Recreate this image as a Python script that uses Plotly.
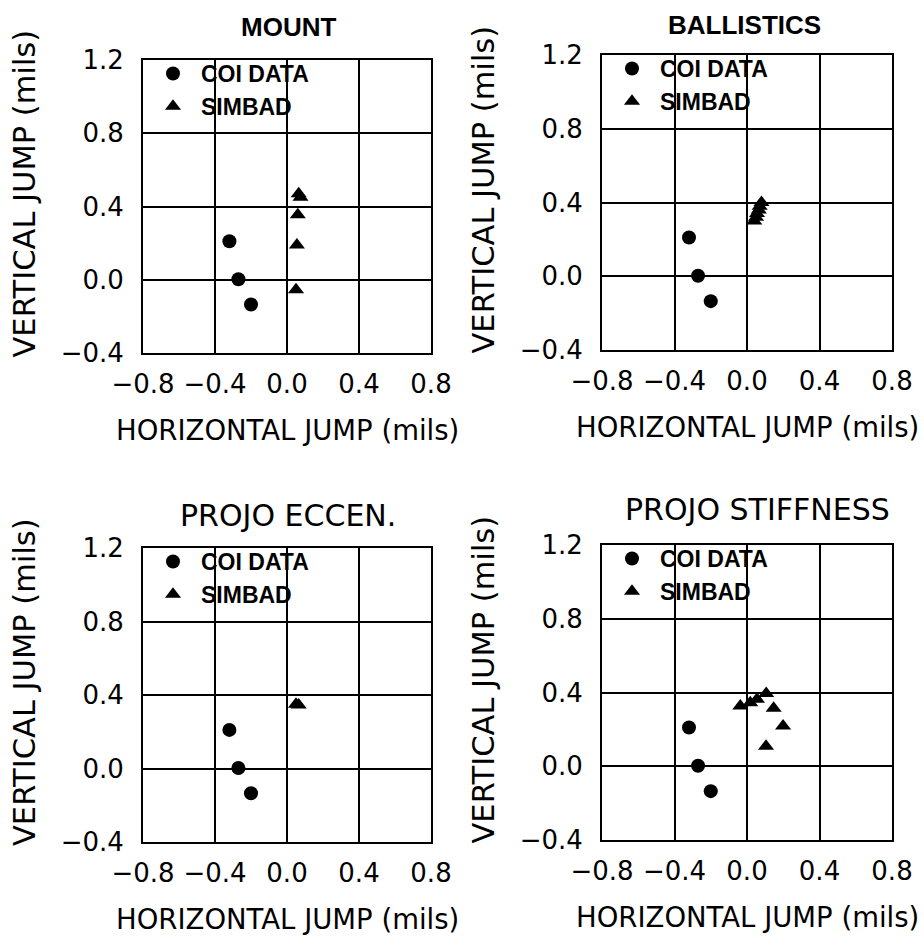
import plotly.graph_objects as go

# ---------------- data ----------------
panel_titles = ["MOUNT", "BALLISTICS", "PROJO ECCEN.", "PROJO STIFFNESS"]
series_names = ["COI DATA", "SIMBAD"]
x_ticks = [-0.8, -0.4, 0.0, 0.4, 0.8]
y_ticks = [-0.4, 0.0, 0.4, 0.8, 1.2]

coi_x = [-0.32, -0.27, -0.20]
coi_y = [0.21, 0.003, -0.135]

mount_x = [0.065, 0.075, 0.06, 0.055, 0.05]
mount_y = [0.47, 0.45, 0.355, 0.19, -0.055]

ballistics_x = [0.04, 0.05, 0.055, 0.065, 0.07, 0.08]
ballistics_y = [0.30, 0.32, 0.34, 0.36, 0.38, 0.40]

eccen_x = [0.05, 0.065]
eccen_y = [0.35, 0.345]

stiff_x = [-0.037, 0.018, 0.055, 0.106, 0.147, 0.199, 0.105]
stiff_y = [0.327, 0.345, 0.364, 0.395, 0.315, 0.218, 0.109]

simbad_sets = [(mount_x, mount_y), (ballistics_x, ballistics_y),
               (eccen_x, eccen_y), (stiff_x, stiff_y)]

# ---------------- layout geometry (pixels) ----------------
W, H = 924, 941
# (left, top, right, bottom) pixel boxes of each plot area
boxes = [(143, 60, 431, 353), (602, 55, 892, 350),
         (143, 548, 431, 842), (602, 545, 892, 840)]
title_pos = [(288, 27), (744, 25), (288, 515), (757, 509)]
bold_title = dict(family="Liberation Sans", size=26, color="black", weight="bold")
plain_title = dict(family="DejaVu Sans", size=30, color="black")
title_fonts = [bold_title, bold_title, plain_title, plain_title]

def px2x(p):
    return p / W

def px2y(p):
    return 1 - p / H

fig = go.Figure()
layout = dict(width=W, height=H,
              margin=dict(l=0, r=0, t=0, b=0, pad=0, autoexpand=False),
              paper_bgcolor="white", plot_bgcolor="white", annotations=[])

tick_font = dict(family="DejaVu Sans", size=26, color="black")
axis_title_font_x = dict(family="DejaVu Sans", size=27.5, color="black")
axis_title_font_y = dict(family="DejaVu Sans", size=30.5, color="black")
legend_font = dict(family="Liberation Sans", size=23, color="black", weight="bold")

for i, (box, (sx, sy)) in enumerate(zip(boxes, simbad_sets)):
    n = i + 1
    sfx = "" if n == 1 else str(n)
    L, T, R, B = box
    xd = [px2x(L), px2x(R)]
    yd = [px2y(B), px2y(T)]
    leg = "legend" + sfx
    fig.add_trace(go.Scatter(x=coi_x, y=coi_y, mode="markers", name=series_names[0],
                             marker=dict(symbol="circle", size=14, color="black"),
                             xaxis="x" + sfx, yaxis="y" + sfx, legend=leg))
    fig.add_trace(go.Scatter(x=sx, y=sy, mode="markers", name=series_names[1],
                             marker=dict(symbol="triangle-up", size=14, color="black"),
                             xaxis="x" + sfx, yaxis="y" + sfx, legend=leg))
    layout["xaxis" + sfx] = dict(domain=xd, range=[-0.8, 0.8], tickvals=x_ticks,
                                 tickformat=".1f", showgrid=True, gridcolor="black",
                                 gridwidth=1.5, zeroline=False, showline=True, mirror=True,
                                 linecolor="black", linewidth=2, ticks="",
                                 tickfont=tick_font, ticklabelstandoff=7,
                                 anchor="y" + sfx, fixedrange=True, automargin=False)
    layout["yaxis" + sfx] = dict(domain=yd, range=[-0.4, 1.2], tickvals=y_ticks,
                                 tickformat=".1f", showgrid=True, gridcolor="black",
                                 gridwidth=1.5, zeroline=False, showline=True, mirror=True,
                                 linecolor="black", linewidth=2, ticks="",
                                 tickfont=tick_font, ticklabelstandoff=12,
                                 anchor="x" + sfx, fixedrange=True, automargin=False)
    layout[leg] = dict(x=px2x(L + 2), y=px2y(T - 8), xanchor="left", yanchor="top",
                       bgcolor="rgba(0,0,0,0)", font=legend_font, tracegroupgap=0,
                       borderwidth=0, itemwidth=46)
    # panel title
    tx, ty = title_pos[i]
    layout["annotations"].append(dict(text=panel_titles[i], x=px2x(tx), y=px2y(ty),
                                      xref="paper", yref="paper", showarrow=False,
                                      xanchor="center", yanchor="middle",
                                      font=title_fonts[i]))
    # x-axis title
    layout["annotations"].append(dict(text="HORIZONTAL JUMP (mils)",
                                      x=px2x((L + R) / 2), y=px2y(B + 77),
                                      xref="paper", yref="paper", showarrow=False,
                                      xanchor="center", yanchor="middle",
                                      font=axis_title_font_x))
    # y-axis title
    layout["annotations"].append(dict(text="VERTICAL JUMP (mils)",
                                      x=px2x(L - 119), y=px2y((T + B) / 2 - 13),
                                      xref="paper", yref="paper", showarrow=False,
                                      xanchor="center", yanchor="middle", textangle=-90,
                                      font=axis_title_font_y))

layout["showlegend"] = True
fig.update_layout(**layout)
fig.write_html("out.html")
